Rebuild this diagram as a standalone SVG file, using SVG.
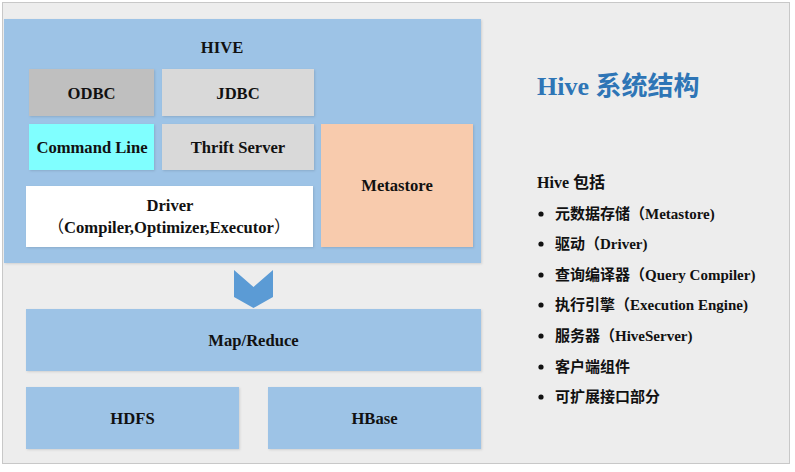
<svg xmlns="http://www.w3.org/2000/svg" width="795" height="472" viewBox="0 0 795 472">
<defs>
<style>
.lbl{font-family:"Liberation Serif","Times New Roman",serif;font-weight:bold;font-size:16.6px;fill:#111;text-anchor:middle}
.blue{fill:#9dc3e6}
.li{font-family:"Liberation Serif","Noto Sans CJK SC",serif;font-weight:bold;font-size:15px;fill:#111}
.cjk{font-family:"Noto Sans CJK SC","Liberation Sans",sans-serif}
</style>
<filter id="sh" x="-5%" y="-5%" width="110%" height="115%">
<feDropShadow dx="1" dy="1" stdDeviation="0.8" flood-color="#000" flood-opacity="0.12"/>
</filter>
</defs>
<rect x="0" y="0" width="795" height="472" fill="#ffffff"/>
<rect x="2.5" y="2.5" width="787" height="461" fill="#ededed" stroke="#c8c8c8" stroke-width="1"/>

<g id="hive">
<rect x="4" y="19" width="477" height="244" class="blue" filter="url(#sh)"/>
<text class="lbl" x="222" y="53">HIVE</text>
</g>
<g id="odbc">
<rect x="29" y="69" width="125" height="47" fill="#bfbfbf" filter="url(#sh)"/>
<text class="lbl" x="91.5" y="99">ODBC</text>
</g>
<g id="jdbc">
<rect x="162" y="69" width="152" height="47" fill="#d9d9d9" filter="url(#sh)"/>
<text class="lbl" x="238" y="99">JDBC</text>
</g>
<g id="cmdline">
<rect x="29" y="124" width="125" height="46" fill="#80ffff" filter="url(#sh)"/>
<text class="lbl" x="92" y="153">Command Line</text>
</g>
<g id="thrift">
<rect x="162" y="124" width="152" height="46" fill="#d9d9d9" filter="url(#sh)"/>
<text class="lbl" x="238" y="153">Thrift Server</text>
</g>
<g id="driver">
<rect x="26" y="186" width="287" height="61" fill="#ffffff" filter="url(#sh)"/>
<text class="lbl" x="170" y="211">Driver</text>
<text class="lbl" x="169" y="233"><tspan class="cjk" font-weight="normal">（</tspan>Compiler,Optimizer,Executor<tspan class="cjk" font-weight="normal">）</tspan></text>
</g>
<g id="metastore">
<rect x="321" y="124" width="152" height="123" fill="#f8cbad" filter="url(#sh)"/>
<text class="lbl" x="397" y="191">Metastore</text>
</g>

<g id="connectors">
<polygon points="234,270 253.5,287 273,270 273,297 253.5,308 234,297" fill="#5b9bd5"/>
</g>

<g id="mapreduce">
<rect x="26" y="309" width="455" height="62" class="blue" filter="url(#sh)"/>
<text class="lbl" x="253.5" y="346">Map/Reduce</text>
</g>
<g id="hdfs">
<rect x="26" y="387" width="213" height="62" class="blue" filter="url(#sh)"/>
<text class="lbl" x="132.5" y="424">HDFS</text>
</g>
<g id="hbase">
<rect x="268" y="387" width="213" height="62" class="blue" filter="url(#sh)"/>
<text class="lbl" x="374.5" y="424">HBase</text>
</g>

<g id="info">
<text x="537" y="95" font-family="Liberation Serif,serif" font-weight="bold" font-size="26" fill="#2e75b6">Hive <tspan font-family="Noto Sans CJK SC,sans-serif">系统结构</tspan></text>
<text x="537" y="188" font-family="Liberation Serif,serif" font-weight="bold" font-size="16" fill="#111">Hive <tspan font-family="Noto Sans CJK SC,sans-serif">包括</tspan></text>
<g fill="#111">
<circle cx="541" cy="214" r="2.6"/>
<circle cx="541" cy="244" r="2.6"/>
<circle cx="541" cy="275" r="2.6"/>
<circle cx="541" cy="305" r="2.6"/>
<circle cx="541" cy="336" r="2.6"/>
<circle cx="541" cy="367" r="2.6"/>
<circle cx="541" cy="397" r="2.6"/>
</g>
<text class="li" x="555" y="219"><tspan class="cjk">元数据存储（</tspan>Metastore)</text>
<text class="li" x="555" y="249"><tspan class="cjk">驱动（</tspan>Driver)</text>
<text class="li" x="555" y="280"><tspan class="cjk">查询编译器（</tspan>Query Compiler)</text>
<text class="li" x="555" y="310"><tspan class="cjk">执行引擎（</tspan>Execution Engine)</text>
<text class="li" x="555" y="341"><tspan class="cjk">服务器（</tspan>HiveServer)</text>
<text class="li" x="555" y="372"><tspan class="cjk">客户端组件</tspan></text>
<text class="li" x="555" y="402"><tspan class="cjk">可扩展接口部分</tspan></text>
</g>
</svg>
